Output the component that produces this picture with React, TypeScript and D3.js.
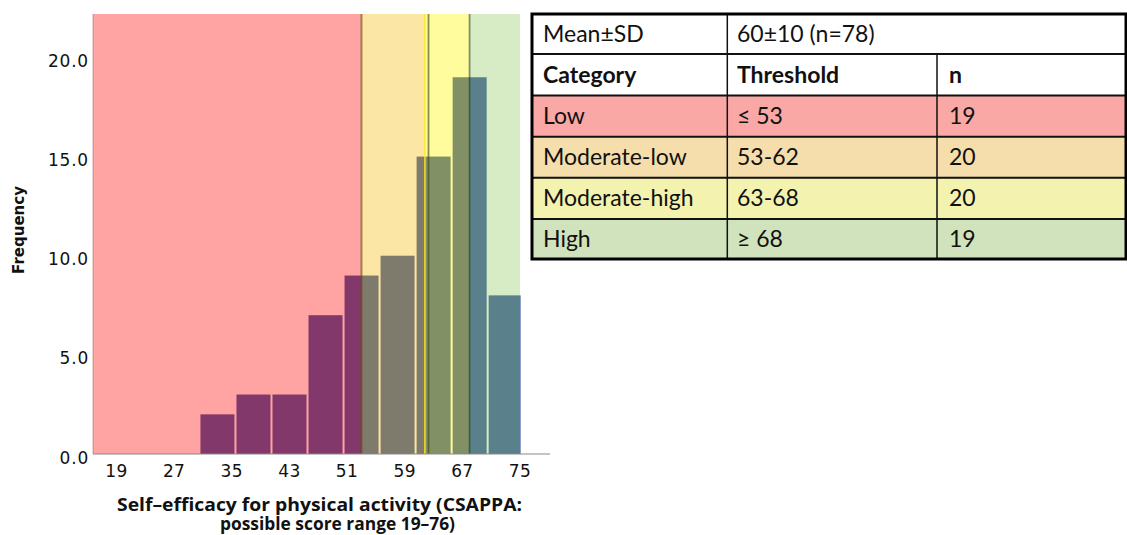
import React from 'react';
import * as d3 from 'd3';

// ---------- data ----------
const binEdges = [30.65, 35.65, 40.65, 45.65, 50.65, 55.65, 60.65, 65.65, 70.65, 75.35];
const frequencies = [2, 3, 3, 7, 9, 10, 15, 19, 8];
const xTicks = [19, 27, 35, 43, 51, 59, 67, 75];
const yTicks = [0, 5, 10, 15, 20];
const bandNames = ['Low', 'Moderate-low', 'Moderate-high', 'High'];
const bandStarts = [15.74, 53, 61.8, 68];
const bandEnds = [53, 61.8, 68, 75];
const thresholdValues = [53, 61.8, 62.3, 68];
const tableCategories = ['Low', 'Moderate-low', 'Moderate-high', 'High'];
const tableThresholds = ['≤ 53', '53-62', '63-68', '≥ 68'];
const tableCounts = [19, 20, 20, 19];
const summaryLabel = 'Mean±SD';
const summaryValue = '60±10 (n=78)';
const tableHeaders = ['Category', 'Threshold', 'n'];

// ---------- styles ----------
const BAR_COLOR = '#2F4DA0';
const BAND_COLORS = ['#FF1919', '#F7C11E', '#FFF70C', '#9BCF6B'];
const BAND_OPACITY = 0.4;
const LINE_STYLES = [
  { color: '#6a4a10', opacity: 0.6, width: 2 },
  { color: '#FFE81A', opacity: 0.9, width: 1.5 },
  { color: '#404010', opacity: 0.6, width: 1.8 },
  { color: '#203a2a', opacity: 0.55, width: 1.8 },
];
const ROW_FILLS = ['#FAA8A5', '#F6DEAC', '#F3F3AF', '#D0E3BC'];

const W = 1127;
const H = 535;

export default function App() {
  const x = d3.scaleLinear().domain([15.74, 75]).range([93, 520]);
  const y = d3.scaleLinear().domain([0, 22.19]).range([454, 14]);

  const tickFont = "'DejaVu Sans', sans-serif";
  const tableFont = "Lato, 'Noto Sans', sans-serif";

  // table geometry
  const tL = 532, tR = 1126;
  const rowY = [14, 54, 95.5, 136.7, 177.8, 219, 259];
  const colX = [tL, 727.3, 937, tR];
  const textX = [543, 737, 949];

  return (
    <svg width={W} height={H} style={{ position: 'absolute', left: 0, top: 0, background: '#fff' }}>
      {/* bars */}
      <g>
        {frequencies.map((f, i) => (
          <rect
            key={i}
            x={x(binEdges[i])}
            y={y(f)}
            width={x(binEdges[i + 1]) - x(binEdges[i]) - 2}
            height={y(0) - y(f)}
            fill={BAR_COLOR}
          />
        ))}
      </g>
      {/* category bands on top */}
      <g>
        {bandNames.map((n, i) => (
          <rect
            key={n}
            x={x(bandStarts[i])}
            y={y.range()[1]}
            width={x(bandEnds[i]) - x(bandStarts[i])}
            height={y.range()[0] - y.range()[1]}
            fill={BAND_COLORS[i]}
            opacity={BAND_OPACITY}
          />
        ))}
      </g>
      {/* threshold lines */}
      <g>
        {thresholdValues.map((v, i) => (
          <line
            key={i}
            x1={x(v)}
            x2={x(v)}
            y1={y.range()[1]}
            y2={y.range()[0]}
            stroke={LINE_STYLES[i].color}
            strokeOpacity={LINE_STYLES[i].opacity}
            strokeWidth={LINE_STYLES[i].width}
          />
        ))}
      </g>
      {/* axes */}
      <line x1={93} x2={93} y1={14} y2={454} stroke="#a05050" strokeOpacity={0.5} strokeWidth={1} />
      <line x1={93} x2={550} y1={454} y2={454} stroke="#8a8a8a" strokeWidth={1.2} />
      <g fontFamily={tickFont} fontSize={17} fill="#111">
        {yTicks.map((t) => (
          <text key={t} x={89} y={y(t) + 9.5} textAnchor="end" letterSpacing={0.8}>
            {t.toFixed(1)}
          </text>
        ))}
        {xTicks.map((t) => (
          <text key={t} x={x(t)} y={476.5} textAnchor="middle" letterSpacing={0.4}>
            {t}
          </text>
        ))}
      </g>
      <text
        transform="translate(24,230) rotate(-90)"
        textAnchor="middle"
        fontFamily={tickFont}
        fontWeight="bold"
        fontSize={15}
        fill="#111"
      >
        Frequency
      </text>
      {/* x title */}
      <g fontFamily="'Open Sans', sans-serif" fontWeight="bold" fill="#111">
        <text x={117} y={510.5} fontSize={18} textLength={405} lengthAdjust="spacingAndGlyphs">
          Self–efficacy for physical activity (CSAPPA:
        </text>
        <text x={220} y={530} fontSize={18} textLength={235} lengthAdjust="spacingAndGlyphs">
          possible score range 19–76)
        </text>
      </g>

      {/* table */}
      <g>
        {ROW_FILLS.map((c, i) => (
          <rect key={i} x={tL} y={rowY[i + 2]} width={tR - tL} height={rowY[i + 3] - rowY[i + 2]} fill={c} />
        ))}
        {rowY.slice(1, -1).map((ry, i) => (
          <line key={i} x1={tL} x2={tR} y1={ry} y2={ry} stroke="#111" strokeWidth={2} />
        ))}
        <line x1={colX[1]} x2={colX[1]} y1={rowY[0]} y2={rowY[6]} stroke="#111" strokeWidth={1.5} />
        <line x1={colX[2]} x2={colX[2]} y1={rowY[1]} y2={rowY[6]} stroke="#111" strokeWidth={1.5} />
        <rect x={tL} y={rowY[0]} width={tR - tL} height={rowY[6] - rowY[0]} fill="none" stroke="#000" strokeWidth={3} />
        <g fontFamily={tableFont} fontSize={23} fill="#111">
          <text x={textX[0]} y={(rowY[0] + rowY[1]) / 2 + 8}>{summaryLabel}</text>
          <text x={textX[1]} y={(rowY[0] + rowY[1]) / 2 + 8}>{summaryValue}</text>
          {tableHeaders.map((h, i) => (
            <text key={h} x={textX[i]} y={(rowY[1] + rowY[2]) / 2 + 8} fontWeight="bold">
              {h}
            </text>
          ))}
          {tableCategories.map((c, i) => {
            const cy = (rowY[i + 2] + rowY[i + 3]) / 2 + 8;
            return (
              <g key={c}>
                <text x={textX[0]} y={cy}>{c}</text>
                <text x={textX[1]} y={cy}>{tableThresholds[i]}</text>
                <text x={textX[2]} y={cy}>{tableCounts[i]}</text>
              </g>
            );
          })}
        </g>
      </g>
    </svg>
  );
}
